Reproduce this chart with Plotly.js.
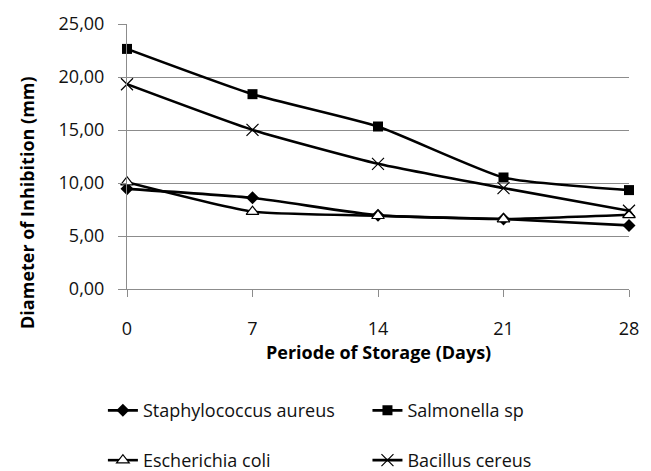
<!DOCTYPE html>
<html>
<head>
<meta charset="utf-8">
<script src="https://cdn.plot.ly/plotly-3.0.1.min.js"></script>
<style>html,body{margin:0;padding:0;background:#fff;}#chart{width:651px;height:471px;}</style>
</head>
<body>
<div id="chart"></div>
<script>
const days = [0, 7, 14, 21, 28];
const dayLabels = ["0", "7", "14", "21", "28"];
const staphylococcus = [9.45, 8.6, 6.95, 6.6, 6.0];
const salmonella = [22.65, 18.38, 15.33, 10.52, 9.33];
const escherichia = [10.08, 7.3, 6.91, 6.6, 7.0];
const bacillus = [19.32, 15.01, 11.81, 9.52, 7.38];
const yTicks = [0, 5, 10, 15, 20, 25];
const yTickLabels = ["0,00", "5,00", "10,00", "15,00", "20,00", "25,00"];
const xTitle = "Periode of Storage (Days)";
const yTitle = "Diameter of Inhibition (mm)";

const FONT = "'Open Sans', Lato, sans-serif";
const lineStyle = {color: "#000", width: 2.6, shape: "spline", smoothing: 0.5};

const traces = [
  {x: days, y: staphylococcus, name: "Staphylococcus aureus", mode: "lines+markers", cliponaxis: false,
   line: lineStyle, marker: {symbol: "diamond", size: 10, color: "#000"}, legend: "legend"},
  {x: days, y: salmonella, name: "Salmonella sp", mode: "lines+markers", cliponaxis: false,
   line: lineStyle, marker: {symbol: "square", size: 10, color: "#000"}, legend: "legend2"},
  {x: days, y: escherichia, name: "Escherichia coli", mode: "lines+markers", cliponaxis: false,
   line: lineStyle, marker: {symbol: "triangle-up", size: 11, color: "#fff", line: {color: "#000", width: 1.2}}, legend: "legend3"},
  {x: days, y: bacillus, name: "Bacillus cereus", mode: "lines+markers", cliponaxis: false,
   line: lineStyle, marker: {symbol: "x-thin-open", size: 12, color: "#000", line: {color: "#333", width: 1.2}}, legend: "legend4"}
];

const legendBase = {
  orientation: "h", xanchor: "left", yanchor: "middle",
  font: {family: FONT, size: 18, color: "#111"},
  bgcolor: "rgba(0,0,0,0)", itemclick: false
};
const col1 = -0.048, col2 = 0.479, row1 = -0.459, row2 = -0.647;

const layout = {
  width: 651, height: 471,
  margin: {l: 127, r: 22, t: 24, b: 182, autoexpand: false},
  paper_bgcolor: "#fff", plot_bgcolor: "#fff",
  font: {family: FONT, color: "#111"},
  showlegend: true,
  xaxis: {
    tickmode: "array", tickvals: days, ticktext: dayLabels,
    range: [0, 28], showgrid: false, zeroline: false,
    showline: true, linecolor: "#8c8c8c", linewidth: 1,
    ticks: "outside", ticklen: 7, tickcolor: "#8c8c8c",
    ticklabelstandoff: 16,
    tickfont: {family: FONT, size: 18, color: "#111"}
  },
  yaxis: {
    tickmode: "array", tickvals: yTicks, ticktext: yTickLabels,
    range: [0, 25], showgrid: true, gridcolor: "#8c8c8c", gridwidth: 1,
    zeroline: false, showline: true, linecolor: "#8c8c8c", linewidth: 1,
    ticks: "outside", ticklen: 8, tickcolor: "#8c8c8c",
    ticklabelstandoff: 10,
    tickfont: {family: FONT, size: 18, color: "#111"}
  },
  annotations: [
    {text: "<b>" + xTitle + "</b>", xref: "paper", yref: "paper", x: 0.5, y: -0.236,
     xanchor: "center", yanchor: "middle", showarrow: false,
     font: {family: FONT, size: 18, color: "#000"}},
    {text: "<b>" + yTitle + "</b>", xref: "paper", yref: "paper", x: -0.199, y: 0.325,
     xanchor: "center", yanchor: "middle", showarrow: false, textangle: -90,
     font: {family: FONT, size: 18, color: "#000"}}
  ],
  legend: Object.assign({}, legendBase, {x: col1, y: row1}),
  legend2: Object.assign({}, legendBase, {x: col2, y: row1}),
  legend3: Object.assign({}, legendBase, {x: col1, y: row2}),
  legend4: Object.assign({}, legendBase, {x: col2, y: row2})
};

Plotly.newPlot("chart", traces, layout, {displayModeBar: false, staticPlot: true});
</script>
</body>
</html>
